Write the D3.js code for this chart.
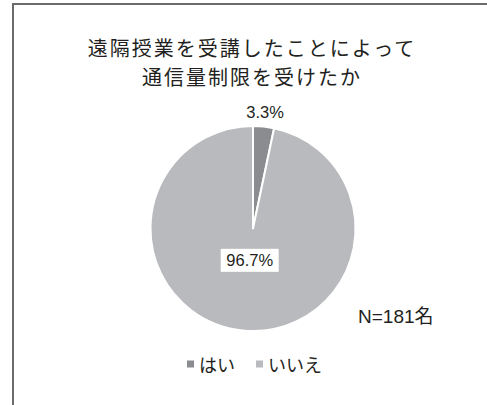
<!DOCTYPE html>
<html>
<head>
<meta charset="utf-8">
<script src="https://cdn.jsdelivr.net/npm/d3@7"></script>
<style>
  html, body { margin: 0; padding: 0; background: #fff; }
  svg { display: block; }
</style>
</head>
<body>
<svg id="chart" width="487" height="405"></svg>
<script>
// Survey answers: was the data cap hit because of remote classes?
const titleLines = ["遠隔授業を受講したことによって", "通信量制限を受けたか"];
const categories = ["はい", "いいえ"];
const percents = [3.3, 96.7];
const colors = ["#8b8c8f", "#b9babd"];
const sampleNote = "N=181名";

const W = 487, H = 405;
const svg = d3.select("#chart");
const font = "'Liberation Sans', Arial, 'Noto Sans CJK JP', sans-serif";
const textColor = "#231f20";

// frame (top and left edges visible)
svg.append("path")
  .attr("d", `M13,${H} L13,4 L${W},4`)
  .attr("fill", "none")
  .attr("stroke", "#6b6b6b")
  .attr("stroke-width", 2);

// title, one text element per line
titleLines.forEach((line, i) => {
  svg.append("text")
    .attr("x", 252)
    .attr("y", 47.5 + i * 29)
    .attr("text-anchor", "middle")
    .attr("dominant-baseline", "central")
    .attr("font-family", "'Noto Sans CJK JP', sans-serif")
    .attr("font-size", 20)
    .attr("letter-spacing", 2)
    .attr("fill", textColor)
    .text(line);
});

// pie
const cx = 253, cy = 228.5, r = 102.5;
const data = categories.map((c, i) => ({ name: c, value: percents[i] }));
const pie = d3.pie().sort(null).value(d => d.value);
const arcs = pie(data);
const arc = d3.arc().innerRadius(0).outerRadius(r);
const color = d3.scaleOrdinal().domain(categories).range(colors);

const g = svg.append("g").attr("transform", `translate(${cx},${cy})`);
g.selectAll("path.slice")
  .data(arcs)
  .join("path")
  .attr("class", "slice")
  .attr("d", arc)
  .attr("fill", d => color(d.data.name))
  .attr("stroke", "#fff")
  .attr("stroke-width", 2)
  .attr("stroke-linejoin", "round");

// value labels
const fmt = v => d3.format(".1f")(v) + "%";
const outerLabel = d3.arc().innerRadius(r + 15).outerRadius(r + 15);
const innerLabel = d3.arc().innerRadius(32).outerRadius(32);

arcs.forEach((a, i) => {
  const inside = i === 1;
  const [lx, ly] = (inside ? innerLabel : outerLabel).centroid(a);
  const lg = g.append("g").attr("transform", `translate(${lx},${ly})`);
  if (inside) {
    lg.append("rect")
      .attr("x", -29).attr("y", -11.5)
      .attr("width", 58).attr("height", 23)
      .attr("fill", "#fff");
  }
  lg.append("text")
    .attr("text-anchor", "middle")
    .attr("dominant-baseline", "central")
    .attr("font-family", font)
    .attr("font-size", 16.5)
    .attr("fill", textColor)
    .text(fmt(a.data.value));
});

// sample size
svg.append("text")
  .attr("x", 358)
  .attr("y", 323)
  .attr("font-family", font)
  .attr("font-size", 19)
  .attr("fill", textColor)
  .text(sampleNote);

// legend
const legendX = [187, 256];
const legend = svg.append("g");
categories.forEach((c, i) => {
  const lg = legend.append("g").attr("transform", `translate(${legendX[i]},364)`);
  lg.append("rect")
    .attr("x", 0).attr("y", -3.5)
    .attr("width", 7).attr("height", 7)
    .attr("fill", color(c));
  lg.append("text")
    .attr("x", 12)
    .attr("y", 0)
    .attr("dominant-baseline", "central")
    .attr("font-family", "'Noto Sans CJK JP', sans-serif")
    .attr("font-size", 18)
    .attr("fill", textColor)
    .text(c);
});
</script>
</body>
</html>
